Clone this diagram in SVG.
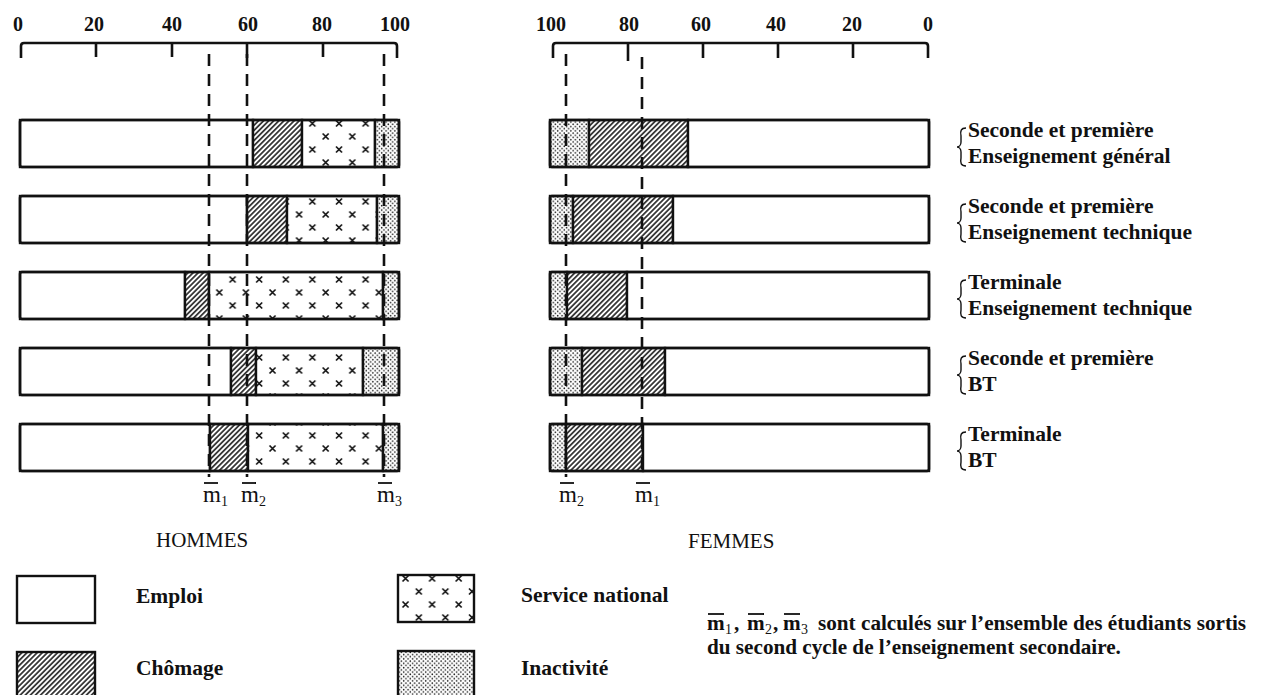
<svg xmlns="http://www.w3.org/2000/svg" width="1263" height="695" viewBox="0 0 1263 695">
<style>
.num{font-family:"Liberation Serif","Times New Roman",serif;font-weight:bold;font-size:20px;text-anchor:middle;fill:#111}
.lab{font-family:"Liberation Serif","Times New Roman",serif;font-weight:bold;font-size:21.5px;fill:#111}
.leg{font-family:"Liberation Serif","Times New Roman",serif;font-weight:bold;font-size:21.5px;fill:#111}
.ttl{font-family:"Liberation Serif","Times New Roman",serif;font-size:21px;fill:#111}
.note{font-family:"Liberation Serif","Times New Roman",serif;font-weight:bold;font-size:21.2px;fill:#111}
.mm{font-family:"Liberation Serif","Times New Roman",serif;font-size:23px;fill:#111}
.sub{font-family:"Liberation Serif","Times New Roman",serif;font-size:14px;fill:#111}
.seg{stroke:#111;stroke-width:2.4}
.out{fill:none;stroke:#111;stroke-width:2.6}
.axis{fill:none;stroke:#111;stroke-width:2.6}
.dash{stroke:#111;stroke-width:2.6;stroke-dasharray:12 8;fill:none}
.bar{stroke:#111;stroke-width:1.8}
.brace{fill:none;stroke:#111;stroke-width:1.4}
</style>
<defs>
<pattern id="hatch" patternUnits="userSpaceOnUse" width="3.6" height="3.6" patternTransform="rotate(45)">
<rect width="3.6" height="3.6" fill="#fff"/>
<line x1="1.8" y1="-1" x2="1.8" y2="5" stroke="#111" stroke-width="1.5"/>
</pattern>
<pattern id="cross" patternUnits="userSpaceOnUse" width="26.6" height="26">
<rect width="26.6" height="26" fill="#fff"/>
<path d="M3.5 3.5l6 6M9.5 3.5l-6 6M16.8 16.5l6 6M22.8 16.5l-6 6" stroke="#111" stroke-width="1.7"/>
</pattern>
<pattern id="dots" patternUnits="userSpaceOnUse" width="4.4" height="4.4">
<rect width="4.4" height="4.4" fill="#fff"/>
<circle cx="1.1" cy="1.1" r="0.8" fill="#222"/>
<circle cx="3.3" cy="3.3" r="0.8" fill="#222"/>
</pattern>
</defs>
<rect width="1263" height="695" fill="#fff"/>

<!-- Axes -->
<g id="axis-hommes">
<path class="axis" d="M21 58V46Q21 43 24 43H394Q397 43 397 46V58M96 43V57M172 43V57M247 43V58M323 43V57"/>
<text class="num" x="18" y="31">0</text>
<text class="num" x="94" y="31">20</text>
<text class="num" x="172" y="31">40</text>
<text class="num" x="248" y="31">60</text>
<text class="num" x="322" y="31">80</text>
<text class="num" x="395" y="31">100</text>
</g>
<g id="axis-femmes">
<path class="axis" d="M553 58V46Q553 43 556 43H925Q928 43 928 46V58M628 43V61M703 43V58M778 43V58M853 43V58"/>
<text class="num" x="551" y="31">100</text>
<text class="num" x="629" y="31">80</text>
<text class="num" x="701" y="31">60</text>
<text class="num" x="776" y="31">40</text>
<text class="num" x="852" y="31">20</text>
<text class="num" x="928" y="31">0</text>
</g>

<!-- Hommes bars -->
<g id="h1">
<rect class="seg" x="20" y="120" width="233" height="47" fill="#fff"/>
<rect class="seg" x="253" y="120" width="49" height="47" fill="url(#hatch)"/>
<rect class="seg" x="302" y="120" width="73" height="47" fill="url(#cross)"/>
<rect class="seg" x="375" y="120" width="24" height="47" fill="url(#dots)"/>
<rect class="out" x="20" y="120" width="379" height="47" rx="2"/>
</g>
<g id="h2">
<rect class="seg" x="20" y="196" width="227" height="47" fill="#fff"/>
<rect class="seg" x="247" y="196" width="40" height="47" fill="url(#hatch)"/>
<rect class="seg" x="287" y="196" width="90" height="47" fill="url(#cross)"/>
<rect class="seg" x="377" y="196" width="22" height="47" fill="url(#dots)"/>
<rect class="out" x="20" y="196" width="379" height="47" rx="2"/>
</g>
<g id="h3">
<rect class="seg" x="20" y="272" width="165" height="47" fill="#fff"/>
<rect class="seg" x="185" y="272" width="24" height="47" fill="url(#hatch)"/>
<rect class="seg" x="209" y="272" width="174" height="47" fill="url(#cross)"/>
<rect class="seg" x="383" y="272" width="16" height="47" fill="url(#dots)"/>
<rect class="out" x="20" y="272" width="379" height="47" rx="2"/>
</g>
<g id="h4">
<rect class="seg" x="20" y="348" width="211" height="47" fill="#fff"/>
<rect class="seg" x="231" y="348" width="25" height="47" fill="url(#hatch)"/>
<rect class="seg" x="256" y="348" width="107" height="47" fill="url(#cross)"/>
<rect class="seg" x="363" y="348" width="36" height="47" fill="url(#dots)"/>
<rect class="out" x="20" y="348" width="379" height="47" rx="2"/>
</g>
<g id="h5">
<rect class="seg" x="20" y="424" width="190" height="47" fill="#fff"/>
<rect class="seg" x="210" y="424" width="38" height="47" fill="url(#hatch)"/>
<rect class="seg" x="248" y="424" width="135" height="47" fill="url(#cross)"/>
<rect class="seg" x="383" y="424" width="16" height="47" fill="url(#dots)"/>
<rect class="out" x="20" y="424" width="379" height="47" rx="2"/>
</g>

<!-- Femmes bars -->
<g id="f1">
<rect class="seg" x="550" y="120" width="39" height="47" fill="url(#dots)"/>
<rect class="seg" x="589" y="120" width="99" height="47" fill="url(#hatch)"/>
<rect class="seg" x="688" y="120" width="241" height="47" fill="#fff"/>
<rect class="out" x="550" y="120" width="379" height="47" rx="2"/>
</g>
<g id="f2">
<rect class="seg" x="550" y="196" width="23" height="47" fill="url(#dots)"/>
<rect class="seg" x="573" y="196" width="100" height="47" fill="url(#hatch)"/>
<rect class="seg" x="673" y="196" width="256" height="47" fill="#fff"/>
<rect class="out" x="550" y="196" width="379" height="47" rx="2"/>
</g>
<g id="f3">
<rect class="seg" x="550" y="272" width="17" height="47" fill="url(#dots)"/>
<rect class="seg" x="567" y="272" width="60" height="47" fill="url(#hatch)"/>
<rect class="seg" x="627" y="272" width="302" height="47" fill="#fff"/>
<rect class="out" x="550" y="272" width="379" height="47" rx="2"/>
</g>
<g id="f4">
<rect class="seg" x="550" y="348" width="32" height="47" fill="url(#dots)"/>
<rect class="seg" x="582" y="348" width="83" height="47" fill="url(#hatch)"/>
<rect class="seg" x="665" y="348" width="264" height="47" fill="#fff"/>
<rect class="out" x="550" y="348" width="379" height="47" rx="2"/>
</g>
<g id="f5">
<rect class="seg" x="550" y="424" width="16" height="47" fill="url(#dots)"/>
<rect class="seg" x="566" y="424" width="77" height="47" fill="url(#hatch)"/>
<rect class="seg" x="643" y="424" width="286" height="47" fill="#fff"/>
<rect class="out" x="550" y="424" width="379" height="47" rx="2"/>
</g>

<!-- Mean reference lines -->
<g id="connectors">
<line class="dash" x1="209" y1="54" x2="209" y2="477"/>
<line class="dash" x1="247" y1="54" x2="247" y2="477"/>
<line class="dash" x1="384" y1="54" x2="384" y2="477"/>
<line class="dash" x1="566" y1="54" x2="566" y2="477"/>
<line class="dash" x1="642" y1="57" x2="642" y2="477"/>
</g>

<!-- Mean labels -->
<g id="m-labels">
<line class="bar" x1="204" y1="483" x2="218" y2="483"/>
<text class="mm" x="203" y="502">m</text><text class="sub" x="221" y="506">1</text>
<line class="bar" x1="242" y1="483" x2="256" y2="483"/>
<text class="mm" x="241" y="502">m</text><text class="sub" x="259" y="506">2</text>
<line class="bar" x1="378" y1="483" x2="392" y2="483"/>
<text class="mm" x="377" y="502">m</text><text class="sub" x="395" y="506">3</text>
<line class="bar" x1="560" y1="483" x2="574" y2="483"/>
<text class="mm" x="559" y="502">m</text><text class="sub" x="577" y="506">2</text>
<line class="bar" x1="636" y1="483" x2="650" y2="483"/>
<text class="mm" x="635" y="502">m</text><text class="sub" x="653" y="506">1</text>
</g>

<!-- Row labels -->
<g id="row-labels">
<path class="brace" d="M966 128C961 128 960 131 961 136V142C961 145 959 147 957 147C959 147 961 149 961 152V158C960 163 961 166 966 166"/>
<text class="lab" x="968" y="137">Seconde et première</text>
<text class="lab" x="968" y="163">Enseignement général</text>
<path class="brace" d="M966 204C961 204 960 207 961 212V218C961 221 959 223 957 223C959 223 961 225 961 228V234C960 239 961 242 966 242"/>
<text class="lab" x="968" y="213">Seconde et première</text>
<text class="lab" x="968" y="239">Enseignement technique</text>
<path class="brace" d="M966 280C961 280 960 283 961 288V294C961 297 959 299 957 299C959 299 961 301 961 304V310C960 315 961 318 966 318"/>
<text class="lab" x="968" y="289">Terminale</text>
<text class="lab" x="968" y="315">Enseignement technique</text>
<path class="brace" d="M966 356C961 356 960 359 961 364V370C961 373 959 375 957 375C959 375 961 377 961 380V386C960 391 961 394 966 394"/>
<text class="lab" x="968" y="365">Seconde et première</text>
<text class="lab" x="968" y="391">BT</text>
<path class="brace" d="M966 432C961 432 960 435 961 440V446C961 449 959 451 957 451C959 451 961 453 961 456V462C960 467 961 470 966 470"/>
<text class="lab" x="968" y="441">Terminale</text>
<text class="lab" x="968" y="467">BT</text>
</g>

<g id="titles">
<text class="ttl" x="156" y="547">HOMMES</text>
<text class="ttl" x="688" y="548">FEMMES</text>
</g>

<!-- Legend -->
<g id="legend-emploi">
<rect class="seg" x="17" y="576" width="78" height="47" fill="#fff"/>
<text class="leg" x="136" y="603">Emploi</text>
</g>
<g id="legend-chomage">
<rect class="seg" x="17" y="652" width="78" height="50" fill="url(#hatch)"/>
<text class="leg" x="136" y="675">Chômage</text>
</g>
<g id="legend-service">
<rect class="seg" x="398" y="575" width="76" height="47" fill="url(#cross)"/>
<text class="leg" x="521" y="602">Service national</text>
</g>
<g id="legend-inactivite">
<rect class="seg" x="398" y="651" width="76" height="50" fill="url(#dots)"/>
<text class="leg" x="521" y="675">Inactivité</text>
</g>

<!-- Note -->
<g id="note">
<line class="bar" x1="708" y1="614" x2="724" y2="614"/>
<text class="note" x="707" y="630">m</text><text class="sub" x="725" y="634">1</text>
<text class="note" x="734" y="630">,</text>
<line class="bar" x1="748" y1="614" x2="764" y2="614"/>
<text class="note" x="747" y="630">m</text><text class="sub" x="765" y="634">2</text>
<text class="note" x="773" y="630">,</text>
<line class="bar" x1="784" y1="614" x2="800" y2="614"/>
<text class="note" x="783" y="630">m</text><text class="sub" x="801" y="634">3</text>
<text class="note" x="818" y="630">sont calculés sur l’ensemble des étudiants sortis</text>
<text class="note" x="707" y="654">du second cycle de l’enseignement secondaire.</text>
</g>
</svg>
